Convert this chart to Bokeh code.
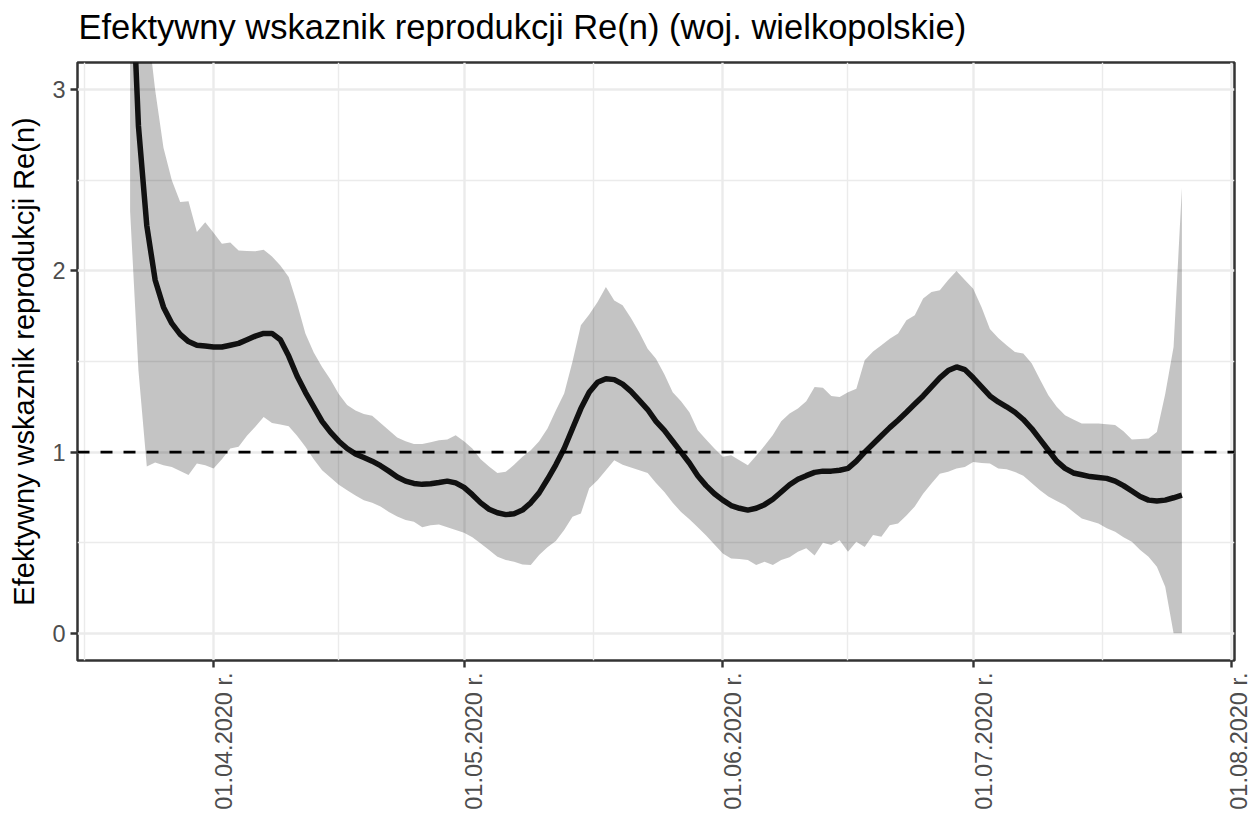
import math
import pandas as pd
from bokeh.plotting import figure
from bokeh.models import (Range1d, FixedTicker, CustomJSTickFormatter, Span,
                          ColumnDataSource, Title)
from bokeh.embed import file_html
from bokeh.resources import INLINE

# ---------------- data ----------------
start_date = "2020-03-22"

re_median = [
    3.9, 2.8, 2.25, 1.95, 1.8, 1.71, 1.65, 1.61, 1.59, 1.585,
    1.58, 1.58, 1.59, 1.60, 1.62, 1.64, 1.655, 1.655, 1.62, 1.53,
    1.42, 1.33, 1.25, 1.17, 1.11, 1.06, 1.02, 0.99, 0.97, 0.95,
    0.925, 0.895, 0.863, 0.84, 0.827, 0.822, 0.825, 0.832, 0.84, 0.83,
    0.805, 0.765, 0.72, 0.685, 0.665, 0.655, 0.66, 0.68, 0.72, 0.775,
    0.85, 0.93, 1.02, 1.13, 1.24, 1.33, 1.385, 1.405, 1.40, 1.375,
    1.335, 1.285, 1.235, 1.17, 1.12, 1.06, 1.00, 0.94, 0.87, 0.815,
    0.77, 0.735, 0.705, 0.69, 0.68, 0.69, 0.71, 0.74, 0.78, 0.82,
    0.85, 0.87, 0.888, 0.895, 0.895, 0.9, 0.91, 0.95, 1.0, 1.045,
    1.09, 1.135, 1.176, 1.22, 1.265, 1.31, 1.36, 1.41, 1.45, 1.47,
    1.455, 1.41, 1.36, 1.31, 1.277, 1.25, 1.22, 1.18, 1.13, 1.07,
    1.01, 0.95, 0.91, 0.885, 0.875, 0.865, 0.86, 0.855, 0.84, 0.815,
    0.785, 0.755, 0.735, 0.73, 0.735, 0.748, 0.762,
]

re_upper = [
    5.0, 4.2, 3.4, 3.0, 2.68, 2.50, 2.38, 2.385, 2.214, 2.269,
    2.21, 2.15, 2.157, 2.113, 2.11, 2.109, 2.117, 2.08, 2.03, 1.966,
    1.82, 1.655, 1.55, 1.47, 1.40, 1.32, 1.26, 1.23, 1.21, 1.20,
    1.16, 1.12, 1.08, 1.06, 1.045, 1.045, 1.055, 1.065, 1.07, 1.093,
    1.06, 1.02, 0.96, 0.92, 0.885, 0.891, 0.93, 0.975, 1.01, 1.06,
    1.13, 1.23, 1.323, 1.50, 1.70, 1.76, 1.828, 1.911, 1.837, 1.81,
    1.74, 1.66, 1.571, 1.515, 1.43, 1.33, 1.28, 1.22, 1.121, 1.07,
    1.02, 0.975, 0.983, 0.955, 0.928, 0.98, 1.035, 1.095, 1.17, 1.213,
    1.24, 1.28, 1.359, 1.355, 1.31, 1.304, 1.33, 1.35, 1.507, 1.555,
    1.59, 1.626, 1.654, 1.727, 1.755, 1.847, 1.883, 1.893, 1.95, 1.999,
    1.95, 1.902, 1.80, 1.68, 1.63, 1.59, 1.552, 1.544, 1.49, 1.40,
    1.314, 1.25, 1.203, 1.18, 1.158, 1.158, 1.158, 1.154, 1.15, 1.115,
    1.07, 1.072, 1.075, 1.111, 1.32, 1.58, 2.46,
]

re_lower = [
    2.33, 1.45, 0.92, 0.943, 0.928, 0.918, 0.896, 0.873, 0.937, 0.928,
    0.91, 0.96, 1.02, 1.03, 1.09, 1.14, 1.194, 1.161, 1.152, 1.143,
    1.09, 1.03, 0.96, 0.90, 0.86, 0.82, 0.79, 0.76, 0.735, 0.72,
    0.70, 0.67, 0.645, 0.625, 0.615, 0.585, 0.597, 0.6, 0.585, 0.57,
    0.555, 0.53, 0.496, 0.46, 0.422, 0.405, 0.395, 0.38, 0.377, 0.432,
    0.475, 0.51, 0.57, 0.643, 0.661, 0.80, 0.845, 0.9, 0.955, 0.93,
    0.915, 0.90, 0.885, 0.83, 0.78, 0.72, 0.67, 0.63, 0.585, 0.54,
    0.49, 0.44, 0.413, 0.41, 0.404, 0.377, 0.395, 0.377, 0.404, 0.42,
    0.45, 0.469, 0.43, 0.50, 0.487, 0.514, 0.45, 0.505, 0.477, 0.542,
    0.533, 0.597, 0.606, 0.65, 0.70, 0.77, 0.827, 0.88, 0.891, 0.91,
    0.918, 0.946, 0.94, 0.937, 0.91, 0.905, 0.89, 0.87, 0.83, 0.79,
    0.755, 0.73, 0.707, 0.67, 0.634, 0.62, 0.606, 0.58, 0.56, 0.53,
    0.505, 0.46, 0.422, 0.367, 0.257, 0.0, 0.0,
]

month_starts = ["2020-03-01", "2020-04-01", "2020-05-01", "2020-06-01",
                "2020-07-01", "2020-08-01"]
tick_months = ["2020-04-01", "2020-05-01", "2020-06-01", "2020-07-01", "2020-08-01"]
y_ticks = [0, 1, 2, 3]
y_minor_ticks = [0.5, 1.5, 2.5]
y_limits = [0, 3]
threshold = 1.0

title_text = "Efektywny wskaznik reprodukcji Re(n) (woj. wielkopolskie)"
y_label = "Efektywny wskaznik reprodukcji Re(n)"

# ---------------- build ----------------
dates = pd.date_range(start_date, periods=len(re_median), freq="D")
src = ColumnDataSource(dict(date=dates, med=re_median, lo=re_lower, hi=re_upper))

span = dates[-1] - dates[0]
x_start = dates[0] - 0.05 * span
x_end = dates[-1] + 0.05 * span
y_pad = 0.05 * (y_limits[1] - y_limits[0])


def ms(ts):
    return pd.Timestamp(ts).value / 1e6


major_x = [ms(d) for d in tick_months]
ms_all = [ms(d) for d in month_starts]
minor_x = [(a + b) / 2 for a, b in zip(ms_all[:-1], ms_all[1:])]

FONT = "Liberation Sans"

p = figure(
    width=1252, height=815,
    x_axis_type="datetime",
    x_range=Range1d(x_start, x_end),
    y_range=Range1d(y_limits[0] - y_pad, y_limits[1] + y_pad),
    output_backend="svg", toolbar_location=None,
    min_border_left=77, min_border_right=18, min_border_top=62, min_border_bottom=155,
    background_fill_color="white", border_fill_color="white",
)

# main title (outermost above panel)
p.title.text = title_text
p.title.text_font = FONT
p.title.text_font_size = "34.5px"
p.title.text_font_style = "normal"
p.title.text_color = "black"
p.title.align = "left"
p.title.offset = 1
p.title.standoff = 9
# thin spacer between the title and the panel
p.add_layout(Title(text=" ", text_font_size="1px", standoff=9), "above")

p.outline_line_color = "#333333"
p.outline_line_width = 2.5

# ribbon, median line, threshold
p.varea(x="date", y1="lo", y2="hi", source=src, fill_color="black", fill_alpha=0.23)
p.line(x="date", y="med", source=src, line_color="#111111", line_width=5.5)
p.add_layout(Span(location=threshold, dimension="width", line_color="black",
                  line_width=2.7, line_dash="12 11"))

# axes
p.xaxis.ticker = FixedTicker(ticks=major_x, minor_ticks=minor_x)
p.xaxis.formatter = CustomJSTickFormatter(code="""
const d = new Date(tick);
const dd = String(d.getUTCDate()).padStart(2, '0');
const mm = String(d.getUTCMonth() + 1).padStart(2, '0');
return '\\n' + dd + '.' + mm + '.' + d.getUTCFullYear() + ' r.';
""")
p.xaxis.major_label_orientation = math.pi / 2
p.xaxis.major_label_text_line_height = 0.8
p.yaxis.ticker = FixedTicker(ticks=y_ticks, minor_ticks=y_minor_ticks)
p.yaxis.axis_label = y_label

for ax in (p.xaxis, p.yaxis):
    ax.axis_line_color = None
    ax.major_tick_line_color = "#333333"
    ax.major_tick_line_width = 2.4
    ax.major_tick_out = 7
    ax.major_tick_in = 0
    ax.minor_tick_line_color = None
    ax.major_label_text_font = FONT
    ax.major_label_text_font_size = "23.5px"
    ax.major_label_text_color = "#4D4D4D"
    ax.major_label_standoff = 5
    ax.axis_label_text_font = FONT
    ax.axis_label_text_font_size = "29px"
    ax.axis_label_text_font_style = "normal"
    ax.axis_label_text_color = "black"
p.yaxis.axis_label_standoff = 9

for g in (p.xgrid, p.ygrid):
    g.grid_line_color = "#EBEBEB"
    g.grid_line_width = 2.4
    g.minor_grid_line_color = "#EBEBEB"
    g.minor_grid_line_width = 1.4

open("out.html", "w").write(file_html(p, INLINE))
